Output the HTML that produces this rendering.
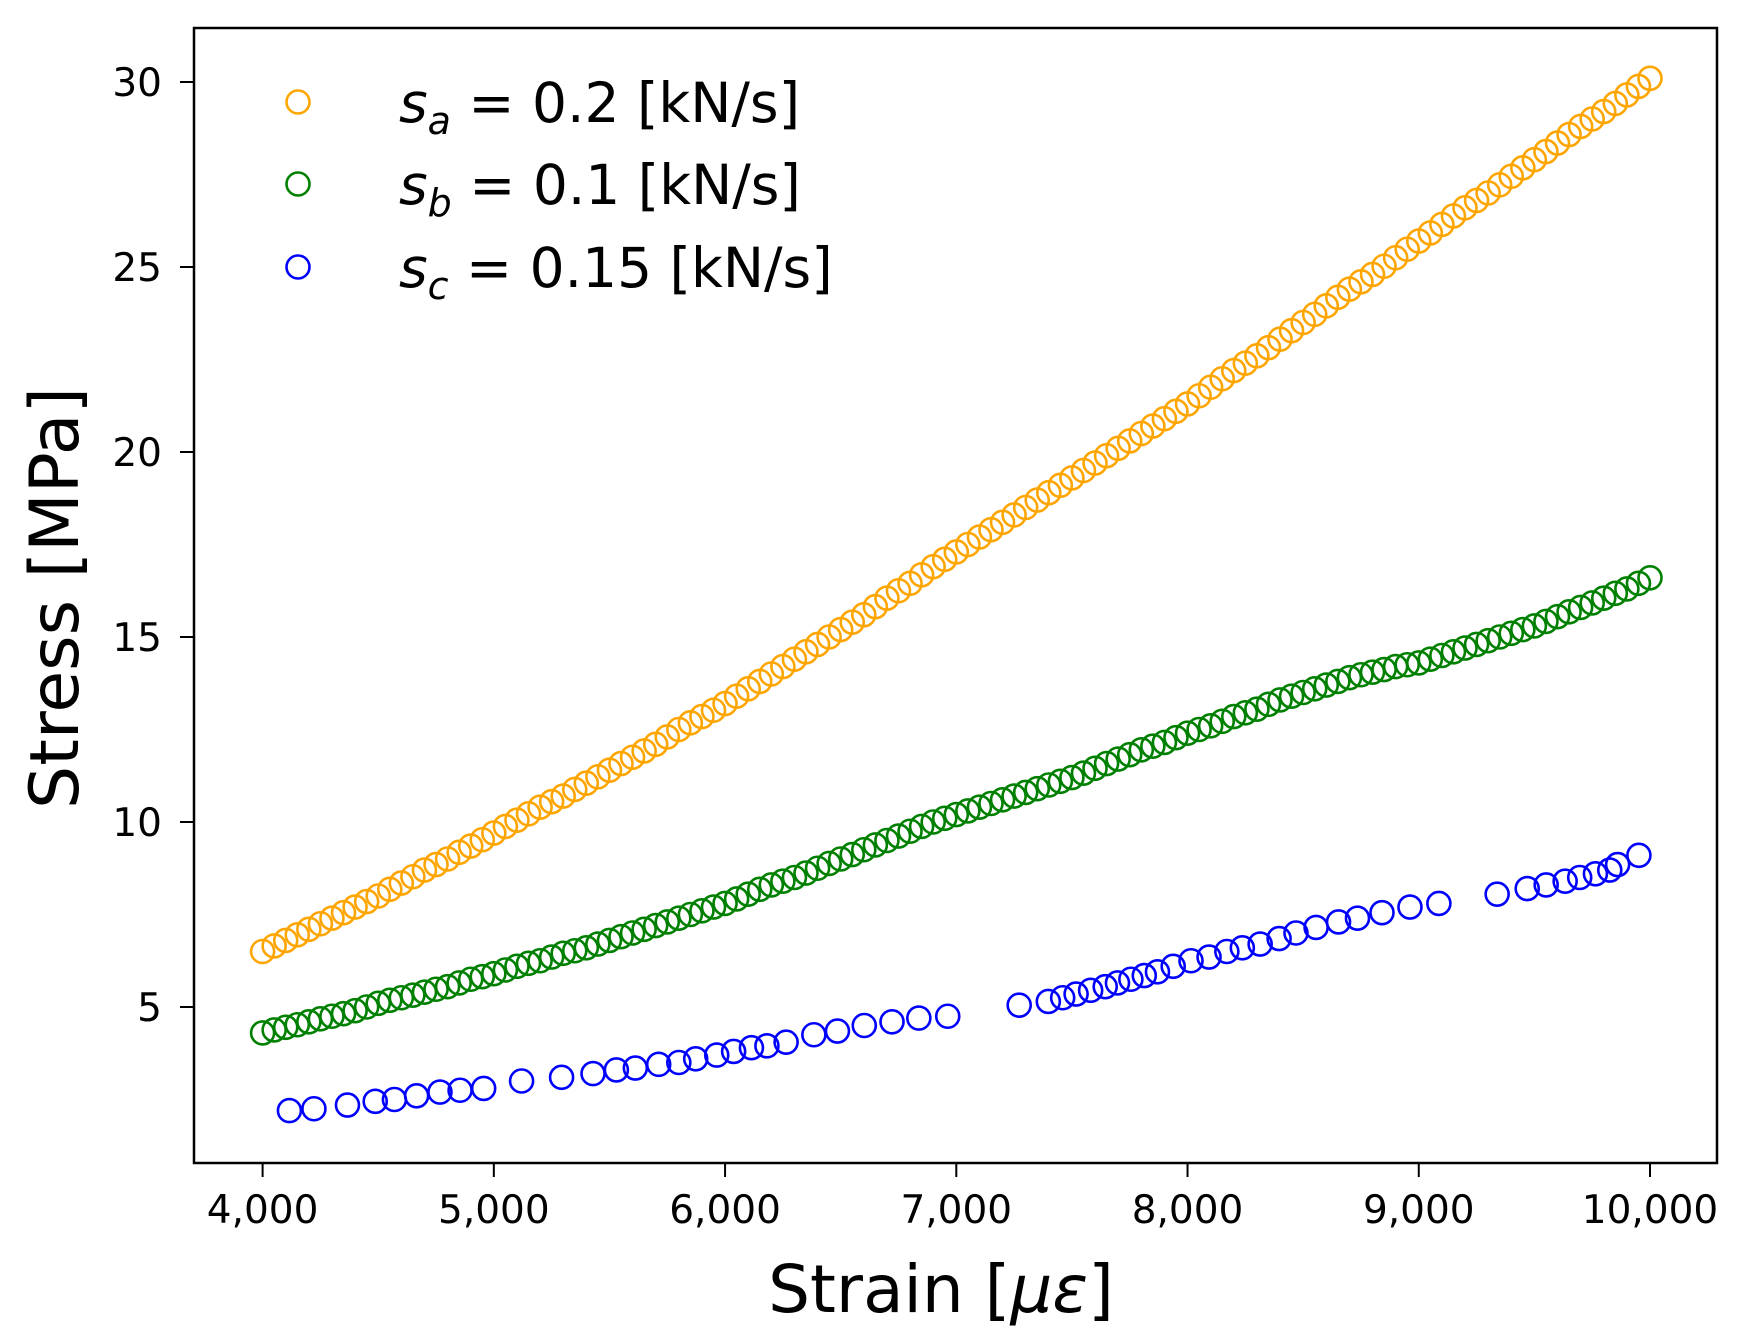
<!DOCTYPE html>
<html><head><meta charset="utf-8"><style>
html,body{margin:0;padding:0;background:#fff;}
svg{display:block;font-family:"DejaVu Sans","Liberation Sans",sans-serif;}
</style></head><body>
<svg id="chart" width="1752" height="1339" viewBox="0 0 1752 1339" xmlns="http://www.w3.org/2000/svg">
<g id="marks"></g>
<rect x="194" y="28" width="1523" height="1135" fill="none" stroke="#000" stroke-width="2.5"/>
<g id="axes"></g>
<text x="941" y="1312" font-size="66" text-anchor="middle">Strain [<tspan font-style="italic">με</tspan>]</text>
<text transform="translate(78,598) rotate(-90)" font-size="68" text-anchor="middle">Stress [MPa]</text>
<g>
<g>
<circle cx="298" cy="102" r="11.5" fill="none" stroke="orange" stroke-width="2.6"/>
<text x="399" y="122" font-size="55"><tspan font-style="italic">s</tspan><tspan font-style="italic" font-size="38" dy="12">a</tspan><tspan dy="-12"> = 0.2 [kN/s]</tspan></text></g>
<g>
<circle cx="298" cy="184" r="11.5" fill="none" stroke="green" stroke-width="2.6"/>
<text x="399" y="204" font-size="55"><tspan font-style="italic">s</tspan><tspan font-style="italic" font-size="38" dy="12">b</tspan><tspan dy="-12"> = 0.1 [kN/s]</tspan></text></g>
<g>
<circle cx="298" cy="267" r="11.5" fill="none" stroke="blue" stroke-width="2.6"/>
<text x="399" y="287" font-size="55"><tspan font-style="italic">s</tspan><tspan font-style="italic" font-size="38" dy="12">c</tspan><tspan dy="-12"> = 0.15 [kN/s]</tspan></text></g>
</g>
</svg>
<script>
const xTicks=[4000,5000,6000,7000,8000,9000,10000];
const xTickLabels=["4,000","5,000","6,000","7,000","8,000","9,000","10,000"];
const yTicks=[5,10,15,20,25,30];
const yTickLabels=["5","10","15","20","25","30"];
const strainAB=[4000,4100,4200,4300,4400,4500,4600,4700,4800,4900,5000,5100,5200,5300,5400,5500,5600,5700,5800,5900,6000,6100,6200,6300,6400,6500,6600,6700,6800,6900,7000,7100,7200,7300,7400,7500,7600,7700,7800,7900,8000,8100,8200,8300,8400,8500,8600,8700,8800,8900,9000,9100,9200,9300,9400,9500,9600,9700,9800,9900,10000];
const stressA=[6.5,6.8,7.1,7.4,7.7,8.0,8.35,8.7,9.0,9.35,9.7,10.05,10.4,10.7,11.05,11.4,11.75,12.1,12.5,12.85,13.2,13.6,14.0,14.4,14.8,15.2,15.6,16.05,16.45,16.9,17.3,17.7,18.1,18.5,18.9,19.3,19.7,20.1,20.5,20.9,21.3,21.75,22.2,22.6,23.05,23.5,23.95,24.4,24.8,25.25,25.7,26.15,26.6,27.0,27.45,27.9,28.35,28.8,29.2,29.65,30.1];
const stressB=[4.3,4.45,4.6,4.75,4.9,5.1,5.25,5.4,5.55,5.75,5.9,6.1,6.25,6.45,6.6,6.8,7.0,7.2,7.4,7.6,7.8,8.05,8.3,8.5,8.75,9.0,9.25,9.5,9.75,10.0,10.2,10.4,10.6,10.8,11.0,11.2,11.45,11.7,11.95,12.15,12.4,12.6,12.85,13.05,13.3,13.5,13.7,13.9,14.05,14.2,14.3,14.5,14.7,14.9,15.1,15.3,15.55,15.8,16.05,16.3,16.6];
const strainAB2=[4050,4150,4250,4350,4450,4550,4650,4750,4850,4950,5050,5150,5250,5350,5450,5550,5650,5750,5850,5950,6050,6150,6250,6350,6450,6550,6650,6750,6850,6950,7050,7150,7250,7350,7450,7550,7650,7750,7850,7950,8050,8150,8250,8350,8450,8550,8650,8750,8850,8950,9050,9150,9250,9350,9450,9550,9650,9750,9850,9950];
const stressA2=[6.65,6.95,7.25,7.55,7.85,8.18,8.52,8.85,9.18,9.52,9.88,10.22,10.55,10.88,11.22,11.58,11.92,12.3,12.68,13.02,13.4,13.8,14.2,14.6,15.0,15.4,15.82,16.25,16.68,17.1,17.5,17.9,18.3,18.7,19.1,19.5,19.9,20.3,20.7,21.1,21.52,21.98,22.4,22.82,23.28,23.72,24.18,24.6,25.02,25.48,25.92,26.38,26.8,27.22,27.68,28.12,28.58,29.0,29.42,29.88];
const stressB2=[4.38,4.52,4.68,4.82,5.0,5.18,5.32,5.48,5.65,5.82,6.0,6.18,6.35,6.52,6.7,6.9,7.1,7.3,7.5,7.7,7.92,8.18,8.4,8.62,8.88,9.12,9.38,9.62,9.88,10.1,10.3,10.5,10.7,10.9,11.1,11.32,11.58,11.82,12.05,12.28,12.5,12.72,12.95,13.18,13.4,13.6,13.8,13.98,14.12,14.25,14.4,14.6,14.8,15.0,15.2,15.42,15.68,15.92,16.18,16.45];
const strainC=[4116,4222,4367,4487,4570,4666,4767,4854,4956,5120,5293,5429,5530,5612,5713,5800,5873,5964,6037,6114,6181,6264,6384,6486,6602,6722,6838,6963,7272,7398,7460,7518,7581,7644,7697,7755,7813,7870,7938,8015,8093,8170,8237,8314,8396,8469,8556,8653,8735,8841,8962,9087,9339,9469,9551,9633,9696,9764,9826,9860,9952];
const stressC=[2.2,2.25,2.35,2.45,2.5,2.6,2.7,2.75,2.8,3.0,3.1,3.2,3.3,3.35,3.45,3.5,3.6,3.7,3.8,3.9,3.95,4.05,4.25,4.35,4.5,4.6,4.7,4.75,5.05,5.15,5.25,5.35,5.45,5.55,5.65,5.75,5.85,5.95,6.1,6.25,6.35,6.5,6.6,6.7,6.85,7.0,7.15,7.3,7.4,7.55,7.7,7.8,8.05,8.2,8.3,8.4,8.5,8.6,8.7,8.85,9.1];
const NS="http://www.w3.org/2000/svg";
function xs(v){return 262.6+(v-4000)*(1650-262.6)/6000;}
function ys(v){return 1192-v*37.0;}
const axes=document.getElementById('axes');
xTicks.forEach((t,i)=>{
  const l=document.createElementNS(NS,'line');
  l.setAttribute('x1',xs(t));l.setAttribute('x2',xs(t));l.setAttribute('y1',1163);l.setAttribute('y2',1177);
  l.setAttribute('stroke','#000');l.setAttribute('stroke-width','2');
  
  
  axes.appendChild(l);
  const tx=document.createElementNS(NS,'text');
  tx.setAttribute('x',xs(t));tx.setAttribute('y',1223);tx.setAttribute('font-size','39');tx.setAttribute('text-anchor','middle');
  tx.textContent=xTickLabels[i];
  
  
  axes.appendChild(tx);
});
yTicks.forEach((t,i)=>{
  const l=document.createElementNS(NS,'line');
  l.setAttribute('x1',180);l.setAttribute('x2',194);l.setAttribute('y1',ys(t));l.setAttribute('y2',ys(t));
  l.setAttribute('stroke','#000');l.setAttribute('stroke-width','2');
  
  
  axes.appendChild(l);
  const tx=document.createElementNS(NS,'text');
  tx.setAttribute('x',162);tx.setAttribute('y',ys(t)+14);tx.setAttribute('font-size','39');tx.setAttribute('text-anchor','end');
  tx.textContent=yTickLabels[i];
  
  
  axes.appendChild(tx);
});
const marks=document.getElementById('marks');
function series(xsArr,ysArr,color,name){
  const g=document.createElementNS(NS,'g');
  
  
  xsArr.forEach((x,i)=>{
    const c=document.createElementNS(NS,'circle');
    c.setAttribute('cx',xs(x));c.setAttribute('cy',ys(ysArr[i]));c.setAttribute('r',11.5);
    c.setAttribute('fill','none');c.setAttribute('stroke',color);c.setAttribute('stroke-width','2.6');
    
    
    g.appendChild(c);
  });
  marks.appendChild(g);
}
series(strainAB,stressA,'orange','series-sa');
series(strainAB2,stressA2,'orange','series-sa-extra');
series(strainAB,stressB,'green','series-sb');
series(strainAB2,stressB2,'green','series-sb-extra');
series(strainC,stressC,'blue','series-sc');
</script>
</body></html>
